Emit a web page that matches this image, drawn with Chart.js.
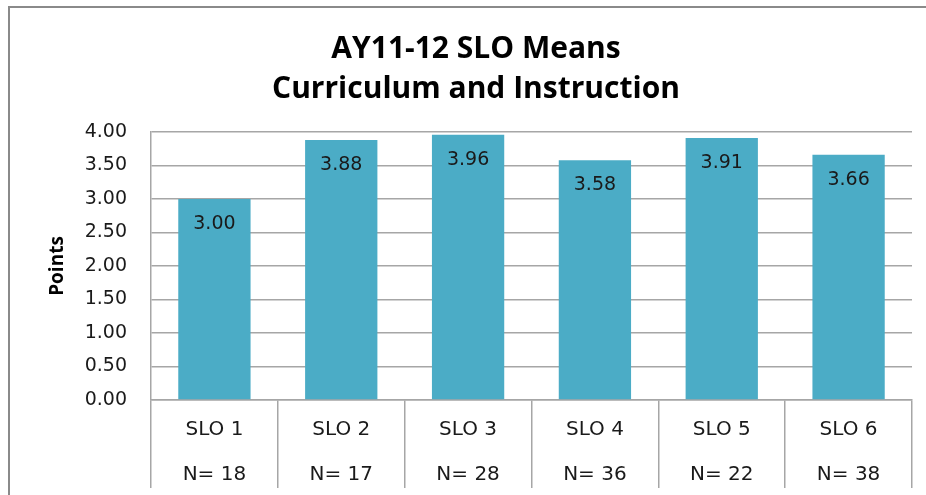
<!DOCTYPE html>
<html>
<head>
<meta charset="utf-8">
<script src="https://cdn.jsdelivr.net/npm/chart.js@4/dist/chart.umd.min.js"></script>
<style>
    html, body { margin: 0; padding: 0; background: #fff; overflow: hidden; }
    #wrap { position: relative; width: 926px; height: 495px; }
    #frame {
        position: absolute; left: 8px; top: 6px; width: 1000px; height: 600px;
        border-left: 2px solid #8a8a8a; border-top: 2px solid #8a8a8a;
    }
    canvas { position: absolute; left: 0; top: 0; }
</style>
</head>
<body>
<div id="wrap">
    <div id="frame"></div>
    <canvas id="sloChart" width="926" height="495"></canvas>
</div>
<script>
// Chart data
const categories = ['SLO 1', 'SLO 2', 'SLO 3', 'SLO 4', 'SLO 5', 'SLO 6'];
const counts = [18, 17, 28, 36, 22, 38];
const means = [3.00, 3.88, 3.96, 3.58, 3.91, 3.66];
const yTicks = [0, 0.5, 1, 1.5, 2, 2.5, 3, 3.5, 4];

const gridGray = '#a6a6a6';

// Draw the value labels just inside the top of each bar
const barValueLabels = {
    id: 'barValueLabels',
    afterDatasetsDraw(chart) {
        const ctx = chart.ctx;
        const meta = chart.getDatasetMeta(0);
        ctx.save();
        ctx.font = '19px "DejaVu Sans"';
        ctx.fillStyle = '#1a1a1a';
        ctx.textAlign = 'center';
        ctx.textBaseline = 'middle';
        meta.data.forEach((bar, i) => {
            ctx.fillText(means[i].toFixed(2), bar.x, bar.y + 25);
        });
        ctx.restore();
    }
};

const ctx = document.getElementById('sloChart').getContext('2d');
new Chart(ctx, {
    type: 'bar',
    data: {
        labels: categories.map((c, i) => [c, 'N= ' + counts[i]]),
        datasets: [{
            data: means,
            backgroundColor: '#4bacc6',
            borderWidth: 0,
            categoryPercentage: 1.0,
            barPercentage: 0.57
        }]
    },
    options: {
        responsive: false,
        animation: false,
        layout: { padding: { left: 40, right: 14, top: 0, bottom: 0 } },
        plugins: {
            legend: { display: false },
            tooltip: { enabled: false },
            title: {
                display: true,
                text: ['AY11-12 SLO Means', 'Curriculum and Instruction'],
                color: '#000',
                font: { family: '"Open Sans"', size: 30, weight: 'bold', lineHeight: 1.35 },
                padding: { top: 29, bottom: 22 }
            }
        },
        scales: {
            x: {
                grid: {
                    offset: true,
                    drawOnChartArea: false,
                    color: gridGray,
                    lineWidth: 1.5,
                    tickLength: 88
                },
                border: { color: gridGray, width: 1.5 },
                ticks: {
                    color: '#1a1a1a',
                    font: { family: '"DejaVu Sans"', size: 20, lineHeight: 2.25 },
                    padding: -80.5,
                    maxRotation: 0
                },
                afterFit(scale) { scale.height = 95; }
            },
            y: {
                min: 0,
                max: 4,
                afterBuildTicks(scale) {
                    scale.ticks = yTicks.map(v => ({ value: v }));
                },
                grid: { color: gridGray, lineWidth: 1.5, drawTicks: false },
                border: { color: gridGray, width: 1.5 },
                ticks: {
                    color: '#1a1a1a',
                    font: { family: '"DejaVu Sans"', size: 19 },
                    padding: 24,
                    callback: v => v.toFixed(2)
                },
                title: {
                    display: true,
                    text: 'Points',
                    color: '#000',
                    font: { family: '"Open Sans"', size: 19, weight: 'bold' },
                    padding: { top: 6, bottom: 0 }
                },
                afterFit(scale) { scale.width = 111; }
            }
        }
    },
    plugins: [barValueLabels]
});
</script>
</body>
</html>
